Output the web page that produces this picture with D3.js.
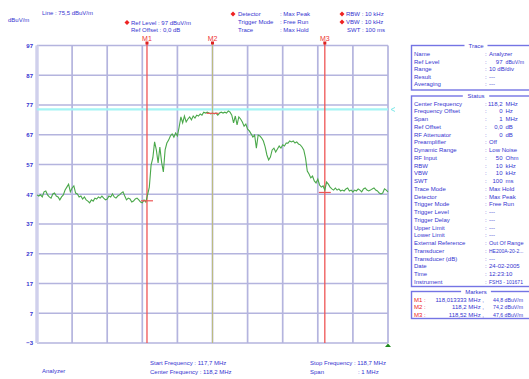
<!DOCTYPE html>
<html><head><meta charset="utf-8">
<script src="https://cdn.jsdelivr.net/npm/d3@7"></script>
<style>
html,body{margin:0;padding:0;background:#fff;}
svg{display:block;font-family:"Liberation Sans",Arial,sans-serif;}
</style></head>
<body>
<svg id="chart" width="529" height="379"></svg>
<script>
// ---------- data ----------
const startFreq = 117.7;          // MHz
const stopFreq = 118.7;           // MHz
const freqStep = 0.005;           // MHz between trace samples
const yTicks = [97, 87, 77, 67, 57, 47, 37, 27, 17, 7, -3];
const xGridFreqs = [117.7,117.8,117.9,118.0,118.1,118.2,118.3,118.4,118.5,118.6,118.7];
const limitLine = 75.5;           // dBuV/m
const traceLevels = [
 46.8,46.4,46.8,46.1,47.8,48.1,46.8,46.1,45.7,47.1,47.4,46.4,46.1,45.1,46.1,46.8,48.4,49.4,50.4,47.8,
 49.1,49.8,47.4,47.1,46.1,46.4,45.4,46.1,45.1,44.7,44.1,45.1,44.7,45.7,45.4,46.1,45.7,46.4,45.7,45.1,
 45.4,46.4,46.1,47.1,46.1,45.7,46.4,46.8,47.4,47.8,46.4,45.1,45.7,45.4,44.4,44.7,45.4,45.7,45.1,44.4,
 44.1,45.1,44.4,46.8,49.4,56.8,59.2,64.6,61.9,57.5,62.9,57.8,54.5,61.9,64.2,65.2,66.6,67.3,66.2,67.6,
 66.6,69.6,73.0,71.0,73.3,71.3,72.3,73.0,72.0,73.3,72.6,73.6,73.3,74.0,73.6,74.6,74.3,74.6,74.3,74.0,
 74.3,74.0,74.3,73.6,74.3,74.6,74.3,74.6,74.3,75.0,74.6,73.6,71.0,73.3,70.3,73.0,72.3,71.3,69.9,70.6,
 68.9,68.3,67.3,66.2,66.9,62.5,66.9,66.6,65.9,64.9,62.9,60.2,58.5,59.5,61.9,62.5,61.2,62.2,63.2,62.5,
 63.6,63.2,64.2,64.2,64.9,64.6,64.9,64.2,64.6,63.9,63.6,62.9,61.9,59.2,54.8,53.8,52.5,53.1,51.5,50.8,
 52.1,50.1,49.4,49.8,48.4,51.1,50.4,49.4,48.8,48.4,49.1,48.4,48.8,48.1,48.4,48.1,48.8,49.1,48.1,48.4,
 47.8,48.4,48.1,48.8,48.4,47.8,48.8,49.1,48.4,48.1,48.4,48.8,49.1,48.4,48.1,47.4,47.1,47.4,48.8,48.4,
 47.8
];
const markerNames = ["M1", "M2", "M3"];
const markerFreqs = [118.013333, 118.2, 118.52];
const markerLevels = [44.8, 74.2, 47.6];
const markerColors = ["#ef5555", "#bcbc80", "#ef5555"];
const traceRows = [["Name","Analyzer",""],["Ref Level","97","dBuV/m"],["Range","10 dB/div",""],["Result","---",""],["Averaging","---",""]];
const statusRows = [
 ["Center Frequency","118,2","MHz"],["Frequency Offset","0","Hz"],["Span","1","MHz"],["Ref Offset","0,0","dB"],
 ["RF Attenuator","0","dB"],["Preamplifier","Off",""],["Dynamic Range","Low Noise",""],["RF Input","50","Ohm"],
 ["RBW","10","kHz"],["VBW","10","kHz"],["SWT","100","ms"],["Trace Mode","Max Hold",""],["Detector","Max Peak",""],
 ["Trigger Mode","Free Run",""],["Trigger Level","---",""],["Trigger Delay","---",""],["Upper Limit","---",""],
 ["Lower Limit","---",""],["External Reference","Out Of Range",""],["Transducer","HE200A-20-2...",""],
 ["Transducer (dB)","---",""],["Date","24-02-2005",""],["Time","12:23:10",""],["Instrument","FSH3 - 101671",""]
];

// ---------- drawing ----------
const svg = d3.select("#chart");
const blue = "#3535d0";
const gridCol = "#b4b4de";
const x = d3.scaleLinear().domain([startFreq, stopFreq]).range([37, 388]);
const y = d3.scaleLinear().domain([-3, 97]).range([343, 45.5]);

const g = svg.append("g");

// grid
g.selectAll("line.hg").data(yTicks).join("line")
  .attr("x1", x(startFreq)).attr("x2", x(stopFreq))
  .attr("y1", d => y(d)).attr("y2", d => y(d))
  .attr("stroke", gridCol).attr("stroke-width", 1.7);
g.selectAll("line.vg").data(xGridFreqs).join("line")
  .attr("x1", d => x(d)).attr("x2", d => x(d))
  .attr("y1", y(97)).attr("y2", y(-3))
  .attr("stroke", gridCol).attr("stroke-width", 1.7);
g.append("rect").attr("x", x(startFreq) - 2).attr("y", y(97)).attr("width", 4).attr("height", y(-3) - y(97))
  .attr("fill", "#d4d4ee").attr("opacity", 0.8);

// y tick labels
const yAxis = d3.axisLeft(y).tickValues(yTicks).tickSize(0).tickPadding(4);
const ya = g.append("g").attr("transform", `translate(${x(startFreq)},0)`).call(yAxis);
ya.select(".domain").remove();
ya.selectAll("text").attr("fill", blue).attr("font-size", 6).attr("font-weight", "bold")
  .attr("font-family", "'Liberation Sans',Arial,sans-serif");

// limit line
g.append("line").attr("x1", x(startFreq)).attr("x2", x(stopFreq))
  .attr("y1", y(limitLine)).attr("y2", y(limitLine))
  .attr("stroke", "#a4f4f4").attr("stroke-width", 2.2);
g.append("path").attr("d", `M${x(stopFreq)+7},${y(limitLine)-2} L${x(stopFreq)+3},${y(limitLine)} L${x(stopFreq)+7},${y(limitLine)+2}`)
  .attr("fill", "none").attr("stroke", "#7ee8e8").attr("stroke-width", 1);

// marker lines
markerFreqs.forEach((f, i) => {
  g.append("line").attr("x1", x(f)).attr("x2", x(f)).attr("y1", 42).attr("y2", y(-3))
    .attr("stroke", markerColors[i]).attr("stroke-width", i === 1 ? 1.1 : 1.3);
  g.append("rect").attr("x", x(f) - 1.5).attr("y", 41.5).attr("width", 3).attr("height", 3)
    .attr("fill", "#dd2222");
  g.append("text").attr("x", x(f)).attr("y", 40.5).attr("text-anchor", "middle")
    .attr("font-size", 7).attr("fill", "#ee3333").text(markerNames[i]);
});

// trace
const traceData = traceLevels.map((v, i) => [startFreq + i * freqStep, v]);
g.append("path").datum(traceData)
  .attr("d", d3.line().x(d => x(d[0])).y(d => y(d[1])))
  .attr("fill", "none").attr("stroke", "#4aa84a").attr("stroke-width", 1.1);

// marker level ticks
markerFreqs.forEach((f, i) => {
  g.append("line").attr("x1", x(f) - 6).attr("x2", x(f) + 6).attr("y1", y(markerLevels[i])).attr("y2", y(markerLevels[i]))
    .attr("stroke", "#ee5555").attr("stroke-width", 1.2);
});

// green triangle at bottom right
g.append("path").attr("d", `M${x(stopFreq)},${y(-3)+0.5} L${x(stopFreq)-3},${y(-3)+4} L${x(stopFreq)+3},${y(-3)+4}Z`)
  .attr("fill", "#1e8a1e");

// text helpers
const maxRight = 524;
function fit(t) {
  let fs = +t.attr("font-size");
  let bb = t.node().getBBox();
  while (bb.x + bb.width > maxRight && fs > 3.5) {
    fs -= 0.2;
    t.attr("font-size", fs);
    bb = t.node().getBBox();
  }
  return t;
}
function txt(xp, yp, s, opt = {}) {
  const t = svg.append("text").attr("x", xp).attr("y", yp).text(s)
    .attr("font-size", opt.size || 6).attr("fill", opt.fill || blue);
  if (opt.anchor) t.attr("text-anchor", opt.anchor);
  return fit(t);
}
function diamond(xp, yp) {
  svg.append("path").attr("d", `M${xp},${yp-2.5} L${xp+2.5},${yp} L${xp},${yp+2.5} L${xp-2.5},${yp}Z`).attr("fill", "#ee2222");
}

// header text
txt(8, 22, "dBuV/m");
txt(42, 15, "Line : 75,5 dBuV/m");
diamond(127, 22.5); txt(131, 24.5, "Ref Level  :  97   dBuV/m");
txt(131, 32, "Ref Offset :   0,0 dB");
diamond(233, 14); txt(238, 16, "Detector");
txt(238, 24, "Trigger Mode");
txt(238, 32, "Trace");
txt(280, 16, ": Max Peak"); txt(280, 24, ": Free Run"); txt(280, 32, ": Max Hold");
diamond(342, 14); txt(346, 16, "RBW :  10 kHz");
diamond(342, 22); txt(346, 24, "VBW :  10 kHz");
txt(347, 32, "SWT : 100 ms");

// footer text
txt(150, 365, "Start Frequency   : 117,7 MHz");
txt(150, 373.5, "Center Frequency : 118,2 MHz");
txt(310, 365, "Stop Frequency : 118,7 MHz");
txt(310, 373.5, "Span"); txt(358, 373.5, ":   1   MHz");
txt(42, 373, "Analyzer");

// right panels
const panelCol = "#7474e4";
function panel(top, bottom, title) {
  svg.append("rect").attr("x", 411.5).attr("y", top).attr("width", 130).attr("height", bottom - top)
    .attr("fill", "none").attr("stroke", panelCol).attr("stroke-width", 1.4);
  const tw = title.length * 3.4 + 6;
  svg.append("rect").attr("x", 476 - tw / 2).attr("y", top - 3).attr("width", tw).attr("height", 6).attr("fill", "#fff");
  txt(476, top + 2.2, title, { anchor: "middle" });
}
function rows(data, y0, dy) {
  data.forEach((r, i) => {
    const yy = y0 + i * dy;
    txt(414, yy, r[0]);
    txt(485, yy, ":");
    if (r[2]) {
      txt(502.5, yy, r[1], { anchor: "end" });
      txt(505.5, yy, r[2]);
    } else {
      txt(489, yy, r[1]);
    }
  });
}
panel(45.5, 90, "Trace");
rows(traceRows, 56, 7.6);
panel(96, 286.5, "Status");
rows(statusRows, 105.5, 7.76);
panel(291.5, 318.5, "Markers");
markerNames.forEach((m, i) => {
  const yy = 301.5 + i * 7.6;
  txt(414, yy, m + " :", { fill: "#ee2222" });
  txt(484, yy, markerFreqs[i].toFixed(6).replace(/0+$/, "").replace(/\.$/, "").replace(".", ",") + " MHz ,", { anchor: "end" });
  txt(493, yy, markerLevels[i].toFixed(1).replace(".", ",") + " dBuV/m");
});
</script>
</body></html>
